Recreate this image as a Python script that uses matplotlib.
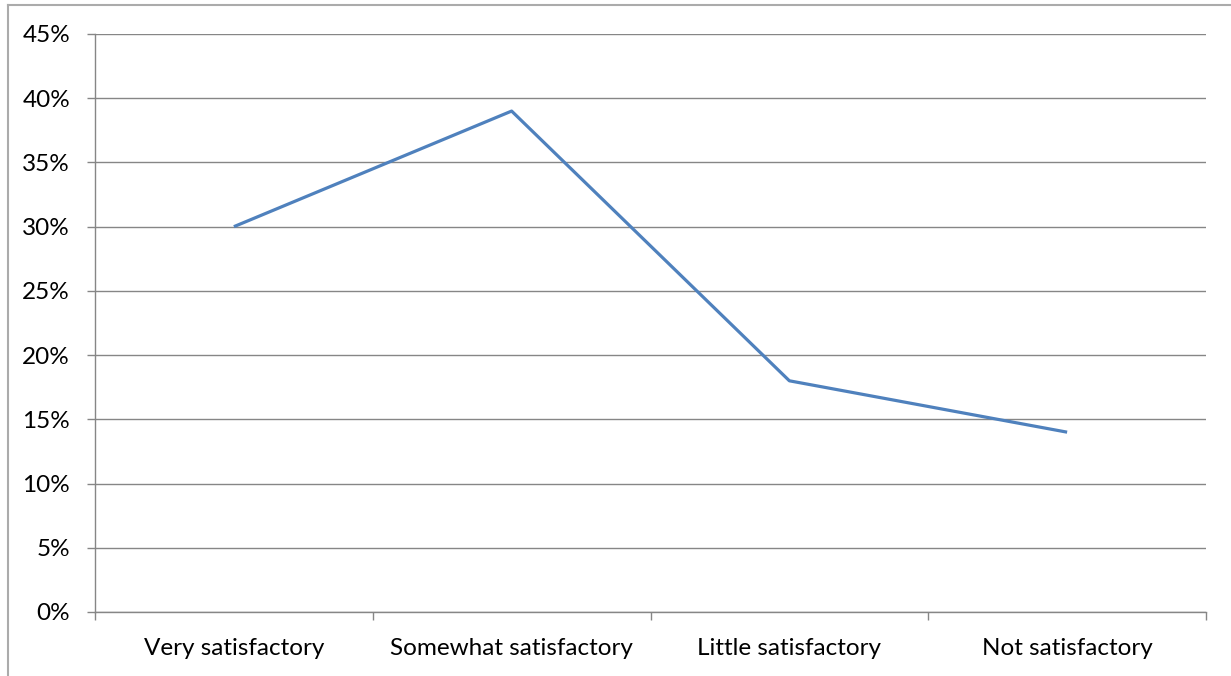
import matplotlib.pyplot as plt
from matplotlib.lines import Line2D
from matplotlib.ticker import FuncFormatter, FixedLocator

categories = ["Very satisfactory", "Somewhat satisfactory", "Little satisfactory", "Not satisfactory"]
values = [0.30, 0.39, 0.18, 0.14]
y_ticks = [0.0, 0.05, 0.10, 0.15, 0.20, 0.25, 0.30, 0.35, 0.40, 0.45]

plt.rcParams['font.family'] = ['Lato', 'DejaVu Sans']
grid_col = '#868686'

fig = plt.figure(figsize=(12.31, 6.76), dpi=100)
ax = fig.add_axes([95 / 1231, 1 - 612 / 676, (1206 - 95) / 1231, (612 - 34) / 676])

x = list(range(len(categories)))
ax.plot(x, values, color='#4F81BD', linewidth=2.3, solid_capstyle='butt')

ax.set_xlim(-0.5, len(categories) - 0.5)
ax.set_ylim(0, 0.45)
ax.set_yticks(y_ticks)
ax.yaxis.set_major_formatter(FuncFormatter(lambda v, p: f"{round(v * 100)}%"))
ax.set_xticks(x)
ax.set_xticklabels(categories)
ax.xaxis.set_minor_locator(FixedLocator([i - 0.5 for i in range(len(categories) + 1)]))

ax.tick_params(axis='x', which='major', length=0, pad=19, labelsize=17.5)
ax.tick_params(axis='x', which='minor', length=6, width=1, color=grid_col)
ax.tick_params(axis='y', length=6, width=1, color=grid_col, pad=12, labelsize=17.5)

ax.grid(axis='y', color=grid_col, linewidth=1)
ax.set_axisbelow(True)
for s in ['top', 'right']:
    ax.spines[s].set_visible(False)
for s in ['left', 'bottom']:
    ax.spines[s].set_color(grid_col)
    ax.spines[s].set_linewidth(1)

# outer chart border (left and top visible in the crop)
bx, by = 7.5 / 1231, 1 - 4.5 / 676
fig.add_artist(Line2D([bx, bx], [0, by], transform=fig.transFigure, color='#ababab', linewidth=1.5))
fig.add_artist(Line2D([bx, 1], [by, by], transform=fig.transFigure, color='#ababab', linewidth=1.5))

fig.savefig('out.png', dpi=100)
